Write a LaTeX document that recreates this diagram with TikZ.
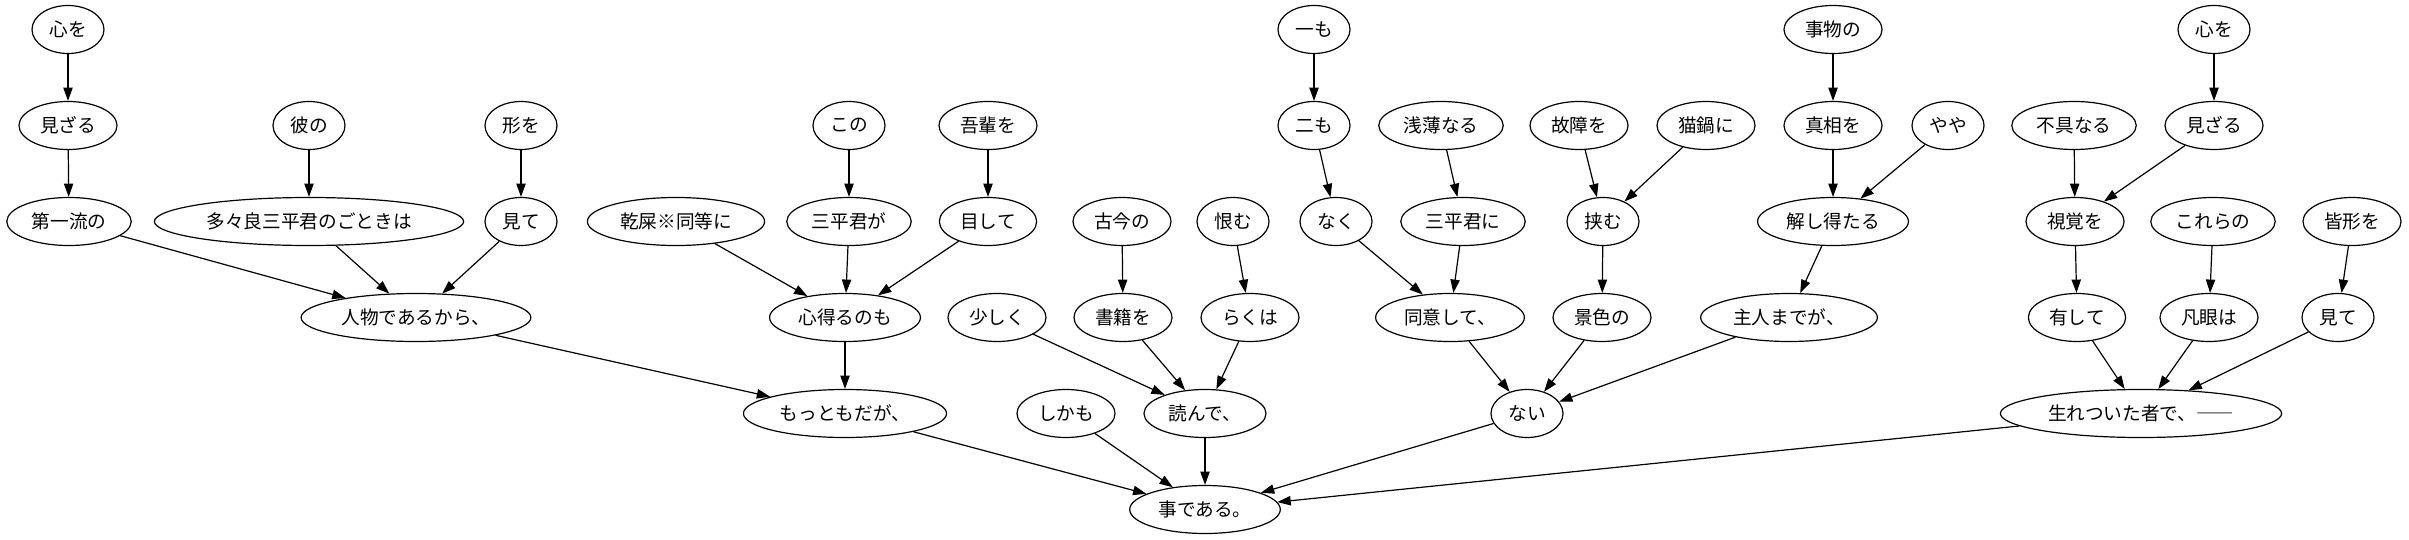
\documentclass[tikz,border=0pt]{standalone}
\usepackage{fontspec}
\newfontfamily\jpfont{Noto Sans CJK JP}
\usetikzlibrary{shapes.geometric, arrows.meta}

\begin{document}
\begin{tikzpicture}[x=0.75pt, y=-0.75pt,
    word/.style={draw, ellipse, line width=0.9pt, minimum width=54pt, minimum height=36pt,
      inner xsep=5pt, inner ysep=1pt, font=\jpfont\fontsize{14pt}{16pt}\selectfont},
    dep/.style={-{Triangle[length=10pt, width=7pt]}, line width=0.9pt}]

    % 1. Fix the page
    \useasboundingbox (0,0) rectangle (2409,539);

    % 2. Place the words, row by row
    % top row
    \node[word] (kokoroA)  at (68,29.5)   {心を};
    \node[word] (ichimo)   at (1314,29.5) {一も};
    \node[word] (jibutsu)  at (1833,29.5) {事物の};
    \node[word] (kokoroB)  at (2214,29.5) {心を};

    % second row
    \node[word] (mizaruA)  at (68,125.5)   {見ざる};
    \node[word] (kareno)   at (309,125.5)  {彼の};
    \node[word] (katachi)  at (521,125.5)  {形を};
    \node[word] (kono)     at (849,125.5)  {この};
    \node[word] (wagahai)  at (988,125.5)  {吾輩を};
    \node[word] (nimo)     at (1314,125.5) {二も};
    \node[word] (senpaku)  at (1441,125.5) {浅薄なる};
    \node[word] (kosho)    at (1579,125.5) {故障を};
    \node[word] (nekonabe) at (1706,125.5) {猫鍋に};
    \node[word] (shinso)   at (1833,125.5) {真相を};
    \node[word] (yaya)     at (1948,125.5) {やや};
    \node[word] (fugu)     at (2074,125.5) {不具なる};
    \node[word] (mizaruB)  at (2214,125.5) {見ざる};

    % third row
    \node[word] (daiichi)   at (69,221.5)   {第一流の};
    \node[word] (tatara)    at (309,221.5)  {多々良三平君のごときは};
    \node[word] (miteA)     at (521,221.5)  {見て};
    \node[word] (kanshi)    at (676,221.5)  {乾屎※同等に};
    \node[word] (sanpeiga)  at (849,221.5)  {三平君が};
    \node[word] (mokushite) at (988,221.5)  {目して};
    \node[word] (kokon)     at (1122,221.5) {古今の};
    \node[word] (uramu)     at (1233,221.5) {恨む};
    \node[word] (naku)      at (1336,221.5) {なく};
    \node[word] (sanpeini)  at (1463,221.5) {三平君に};
    \node[word] (hasamu)    at (1603,221.5) {挟む};
    \node[word] (kaishi)    at (1833,221.5) {解し得たる};
    \node[word] (shikaku)   at (2075,221.5) {視覚を};
    \node[word] (korera)    at (2213,221.5) {これらの};
    \node[word] (minakata)  at (2352,221.5) {皆形を};

    % fourth row
    \node[word] (jinbutsu)  at (416,317.5)  {人物であるから、};
    \node[word] (kokoroeru) at (845,317.5)  {心得るのも};
    \node[word] (sukoshiku) at (997,317.5)  {少しく};
    \node[word] (shoseki)   at (1123,317.5) {書籍を};
    \node[word] (rakuwa)    at (1250,317.5) {らくは};
    \node[word] (doi)       at (1450,317.5) {同意して、};
    \node[word] (keshiki)   at (1602,317.5) {景色の};
    \node[word] (shujin)    at (1789,317.5) {主人までが、};
    \node[word] (yushite)   at (2077,317.5) {有して};
    \node[word] (bongan)    at (2209,317.5) {凡眼は};
    \node[word] (miteB)     at (2338,317.5) {見て};

    % fifth row
    \node[word] (mottomo) at (845,413.5)  {もっともだが、};
    \node[word] (shikamo) at (1066,413.5) {しかも};
    \node[word] (yonde)   at (1205,413.5) {読んで、};
    \node[word] (nai)     at (1527,413.5) {ない};
    \node[word] (umare)   at (2141,413.5) {生れついた者で、――};

    % root
    \node[word] (koto) at (1205,509.5) {事である。};

    % 3. Draw the dependencies
    \draw[dep] (kokoroA) -- (mizaruA);
    \draw[dep] (mizaruA) -- (daiichi);
    \draw[dep] (daiichi) -- (jinbutsu);
    \draw[dep] (kareno) -- (tatara);
    \draw[dep] (tatara) -- (jinbutsu);
    \draw[dep] (katachi) -- (miteA);
    \draw[dep] (miteA) -- (jinbutsu);
    \draw[dep] (jinbutsu) -- (mottomo);

    \draw[dep] (kanshi) -- (kokoroeru);
    \draw[dep] (kono) -- (sanpeiga);
    \draw[dep] (sanpeiga) -- (kokoroeru);
    \draw[dep] (wagahai) -- (mokushite);
    \draw[dep] (mokushite) -- (kokoroeru);
    \draw[dep] (kokoroeru) -- (mottomo);
    \draw[dep] (mottomo) -- (koto);

    \draw[dep] (kokon) -- (shoseki);
    \draw[dep] (shoseki) -- (yonde);
    \draw[dep] (uramu) -- (rakuwa);
    \draw[dep] (rakuwa) -- (yonde);
    \draw[dep] (sukoshiku) -- (yonde);
    \draw[dep] (yonde) -- (koto);
    \draw[dep] (shikamo) -- (koto);

    \draw[dep] (ichimo) -- (nimo);
    \draw[dep] (nimo) -- (naku);
    \draw[dep] (naku) -- (doi);
    \draw[dep] (senpaku) -- (sanpeini);
    \draw[dep] (sanpeini) -- (doi);
    \draw[dep] (doi) -- (nai);
    \draw[dep] (kosho) -- (hasamu);
    \draw[dep] (nekonabe) -- (hasamu);
    \draw[dep] (hasamu) -- (keshiki);
    \draw[dep] (keshiki) -- (nai);
    \draw[dep] (jibutsu) -- (shinso);
    \draw[dep] (shinso) -- (kaishi);
    \draw[dep] (yaya) -- (kaishi);
    \draw[dep] (kaishi) -- (shujin);
    \draw[dep] (shujin) -- (nai);
    \draw[dep] (nai) -- (koto);

    \draw[dep] (kokoroB) -- (mizaruB);
    \draw[dep] (fugu) -- (shikaku);
    \draw[dep] (mizaruB) -- (shikaku);
    \draw[dep] (shikaku) -- (yushite);
    \draw[dep] (yushite) -- (umare);
    \draw[dep] (korera) -- (bongan);
    \draw[dep] (bongan) -- (umare);
    \draw[dep] (minakata) -- (miteB);
    \draw[dep] (miteB) -- (umare);
    \draw[dep] (umare) -- (koto);

\end{tikzpicture}
\end{document}
